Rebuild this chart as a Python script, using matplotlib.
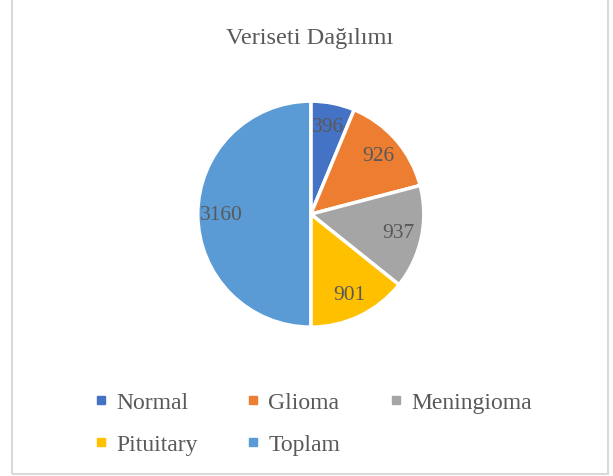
import matplotlib.pyplot as plt
from matplotlib.lines import Line2D
from matplotlib.patches import Rectangle

# Veri
categories = ["Normal", "Glioma", "Meningioma", "Pituitary", "Toplam"]
counts = [396, 926, 937, 901, 3160]
colors = ["#4472C4", "#ED7D31", "#A5A5A5", "#FFC000", "#5B9BD5"]

plt.rcParams['font.family'] = ['Liberation Serif', 'DejaVu Serif']
textColor = "#595959"

fig = plt.figure(figsize=(6.13, 4.77), dpi=100)

# Kader rond de grafiek
fig.patches.append(Rectangle((12/613, 2/477), 596/613, 480/477, transform=fig.transFigure,
                             fill=False, edgecolor="#D9D9D9", linewidth=1.5))

ax = fig.add_axes([0.3227, 0.312, 0.3687, 0.474])
wedges, texts = ax.pie(counts, colors=colors, startangle=90, counterclock=False,
                       labels=[str(c) for c in counts], labeldistance=0.79,
                       wedgeprops=dict(edgecolor="white", linewidth=2.5),
                       textprops=dict(color=textColor, fontsize=15.5, ha="center", va="center"))
for t in texts:
    t.set_ha("center")
ax.set_xlim(-1, 1)
ax.set_ylim(-1, 1)
ax.set_aspect("equal")

fig.text(0.505, 0.92, "Veriseti Dağılımı", ha="center", va="center", fontsize=17.6, color=textColor)

# Legenda, kolom voor kolom gevuld
order = [0, 3, 1, 4, 2]
handles = [Line2D([], [], marker="s", linestyle="none", markersize=5.5,
                  markerfacecolor=colors[i], markeredgecolor=colors[i]) for i in order]
fig.legend(handles, [categories[i] for i in order], ncol=3, loc="center",
           bbox_to_anchor=(0.51, 0.11), frameon=False, fontsize=17, labelcolor=textColor,
           handlelength=0.6, handletextpad=0.35, columnspacing=2.05, labelspacing=0.85)

plt.savefig("out.png", dpi=100)
